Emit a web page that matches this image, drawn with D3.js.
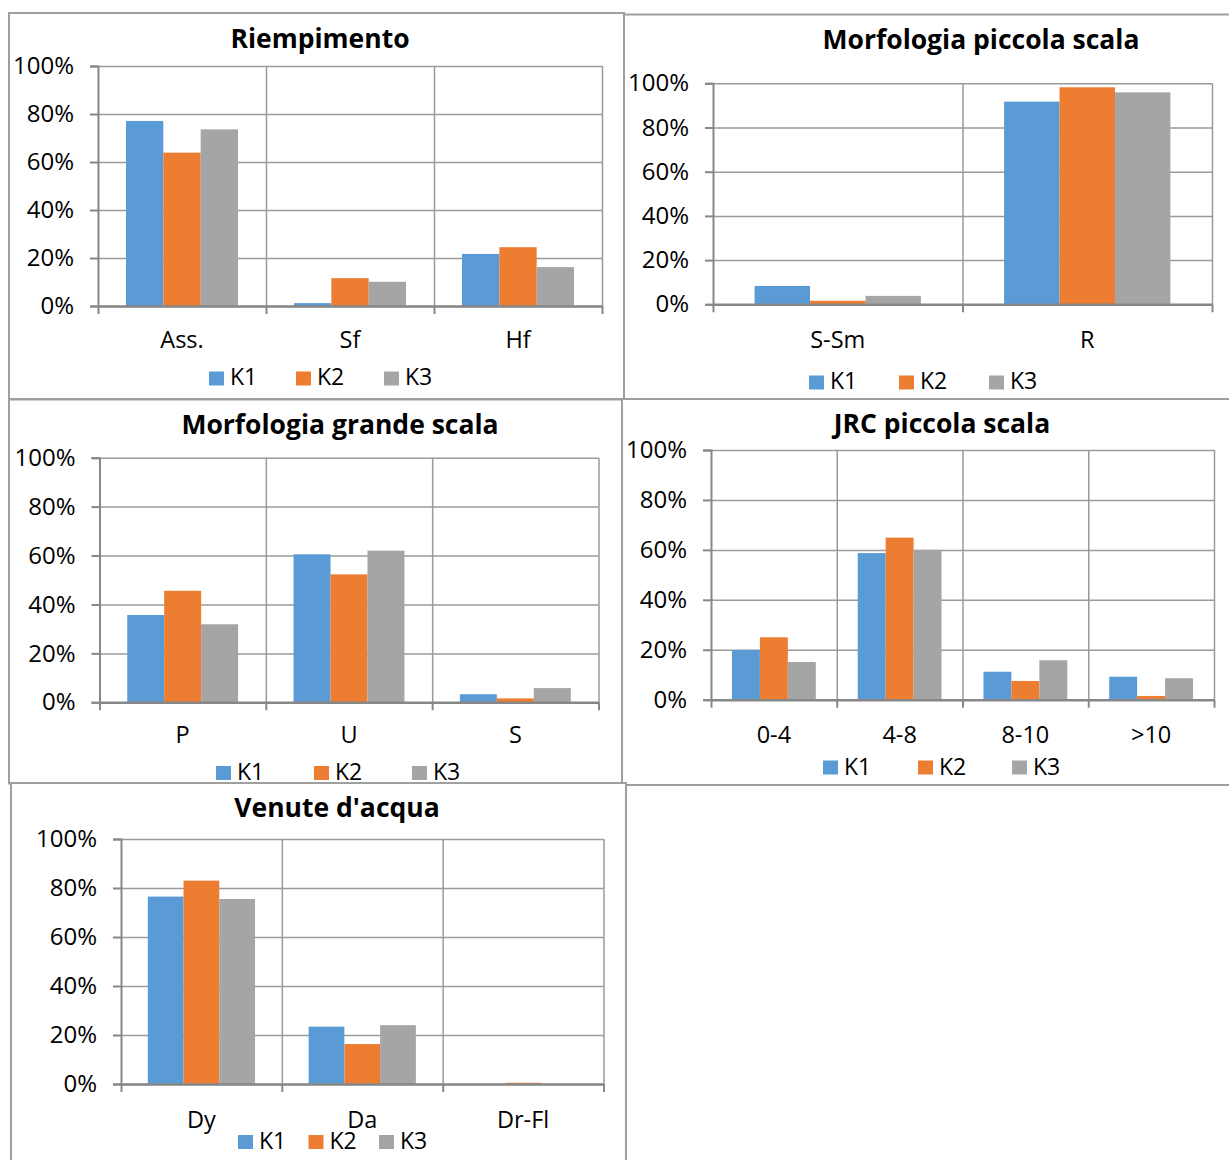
<!DOCTYPE html>
<html>
<head>
<meta charset="utf-8">
<script src="https://cdn.jsdelivr.net/npm/d3@7"></script>
<style>
  html, body { margin: 0; padding: 0; background: #fff; }
  svg { display: block; }
  text { font-family: "Open Sans", "Noto Sans", sans-serif; fill: #000; }
</style>
</head>
<body>
<svg id="chart" width="1229" height="1160"></svg>
<script>
// ---------------- DATA ----------------
const seriesNames = ["K1", "K2", "K3"];
const yTickValues = [0, 0.2, 0.4, 0.6, 0.8, 1.0];

const titles = ["Riempimento", "Morfologia piccola scala", "Morfologia grande scala", "JRC piccola scala", "Venute d'acqua"];

const riempimentoCategories = ["Ass.", "Sf", "Hf"];
const riempimentoK1 = [0.771, 0.012, 0.217];
const riempimentoK2 = [0.639, 0.116, 0.245];
const riempimentoK3 = [0.736, 0.101, 0.162];

const piccolaCategories = ["S-Sm", "R"];
const piccolaK1 = [0.083, 0.917];
const piccolaK2 = [0.016, 0.982];
const piccolaK3 = [0.038, 0.959];

const grandeCategories = ["P", "U", "S"];
const grandeK1 = [0.357, 0.605, 0.033];
const grandeK2 = [0.456, 0.523, 0.016];
const grandeK3 = [0.319, 0.620, 0.058];

const jrcCategories = ["0-4", "4-8", "8-10", ">10"];
const jrcK1 = [0.199, 0.587, 0.112, 0.092];
const jrcK2 = [0.250, 0.649, 0.075, 0.015];
const jrcK3 = [0.151, 0.600, 0.158, 0.086];

const venuteCategories = ["Dy", "Da", "Dr-Fl"];
const venuteK1 = [0.765, 0.234, 0.0];
const venuteK2 = [0.830, 0.163, 0.005];
const venuteK3 = [0.755, 0.240, 0.0];

// ---------------- STYLE / LAYOUT ----------------
const seriesColors = ["#5B9BD5", "#ED7D31", "#A5A5A5"];

const panelSpecs = [
  { title: titles[0], cats: riempimentoCategories, values: [riempimentoK1, riempimentoK2, riempimentoK3],
    frame: [9, 13, 615, 386], titleX: 320, titleY: 48,
    plot: { x0: 98, x1: 602, yTop: 66, yBot: 306 }, catY: 348,
    legend: { xs: [209, 296, 384], top: 371.5, base: 385 } },
  { title: titles[1], cats: piccolaCategories, values: [piccolaK1, piccolaK2, piccolaK3],
    frame: [624, 14.5, 620, 384.5], titleX: 981, titleY: 48.5,
    plot: { x0: 713, x1: 1212, yTop: 83.3, yBot: 304.3 }, catY: 348,
    legend: { xs: [809, 899, 989], top: 375.5, base: 389 } },
  { title: titles[2], cats: grandeCategories, values: [grandeK1, grandeK2, grandeK3],
    frame: [9, 399.5, 613, 384], titleX: 340, titleY: 434,
    plot: { x0: 99.5, x1: 598.5, yTop: 457.7, yBot: 702.3 }, catY: 743,
    legend: { xs: [216, 314, 412], top: 766, base: 780 } },
  { title: titles[3], cats: jrcCategories, values: [jrcK1, jrcK2, jrcK3],
    frame: [622, 399, 620, 386], titleX: 942, titleY: 433,
    plot: { x0: 711, x1: 1214, yTop: 450, yBot: 699.7 }, catY: 742.5,
    legend: { xs: [823, 918, 1012], top: 760.5, base: 775 } },
  { title: titles[4], cats: venuteCategories, values: [venuteK1, venuteK2, venuteK3],
    frame: [11, 783, 615, 400], titleX: 337, titleY: 816.5,
    plot: { x0: 121, x1: 603.5, yTop: 839, yBot: 1084 }, catY: 1127.5,
    legend: { xs: [238, 308.5, 379], top: 1135, base: 1149 } }
];

const svg = d3.select("#chart");
const gridColor = "#9a9a9a";
const axisColor = "#878787";
const frameColor = "#9f9f9f";

panelSpecs.forEach(spec => {
  const g = svg.append("g");
  const [fx, fy, fw, fh] = spec.frame;
  g.append("rect").attr("x", fx).attr("y", fy).attr("width", fw).attr("height", fh)
    .attr("fill", "#fff").attr("stroke", frameColor).attr("stroke-width", 2);

  const p = spec.plot;
  const y = d3.scaleLinear().domain([0, 1]).range([p.yBot, p.yTop]);
  const xCat = d3.scaleBand().domain(spec.cats).range([p.x0, p.x1]).padding(0);
  const xSer = d3.scaleBand().domain(seriesNames).range([0, xCat.bandwidth()])
    .paddingInner(0).paddingOuter(0.75);
  const xBound = d3.scaleLinear().domain([0, spec.cats.length]).range([p.x0, p.x1]);

  // horizontal gridlines
  g.append("g").attr("transform", `translate(${p.x0},0)`)
    .call(d3.axisLeft(y).tickValues(yTickValues).tickSize(-(p.x1 - p.x0)).tickFormat(""))
    .call(a => a.select(".domain").remove())
    .call(a => a.selectAll("line").attr("stroke", gridColor).attr("stroke-width", 1.5));

  // vertical gridlines at category boundaries
  g.append("g").attr("transform", `translate(0,${p.yTop})`)
    .call(d3.axisBottom(xBound).tickValues(d3.range(1, spec.cats.length + 1)).tickSize(p.yBot - p.yTop).tickFormat(""))
    .call(a => a.select(".domain").remove())
    .call(a => a.selectAll("line").attr("stroke", gridColor).attr("stroke-width", 1.5));

  // bars
  spec.cats.forEach((c, ci) => {
    seriesNames.forEach((s, si) => {
      const v = spec.values[si][ci];
      g.append("rect")
        .attr("x", xCat(c) + xSer(s))
        .attr("y", y(v))
        .attr("width", xSer.bandwidth())
        .attr("height", Math.max(0, y(0) - y(v)))
        .attr("fill", seriesColors[si]);
    });
  });

  // y axis with labels
  g.append("g").attr("transform", `translate(${p.x0},0)`)
    .call(d3.axisLeft(y).tickValues(yTickValues).tickSize(8).tickPadding(16).tickFormat(d3.format(".0%")))
    .call(a => a.select(".domain").attr("stroke", axisColor).attr("stroke-width", 2))
    .call(a => a.selectAll("line").attr("stroke", axisColor).attr("stroke-width", 2))
    .call(a => a.selectAll("text").attr("font-size", 24).attr("font-family", '"Open Sans", sans-serif').attr("fill", "#000"));

  // x axis: line + boundary ticks
  g.append("g").attr("transform", `translate(0,${p.yBot})`)
    .call(d3.axisBottom(xBound).tickValues(d3.range(0, spec.cats.length + 1)).tickSize(8).tickSizeOuter(0).tickFormat(""))
    .call(a => a.select(".domain").attr("stroke", axisColor).attr("stroke-width", 2.5))
    .call(a => a.selectAll("line").attr("stroke", axisColor).attr("stroke-width", 2));

  // category labels
  g.append("g").selectAll("text").data(spec.cats).join("text")
    .attr("x", d => xCat(d) + xCat.bandwidth() / 2)
    .attr("y", spec.catY)
    .attr("text-anchor", "middle")
    .attr("font-size", 23.5)
    .text(d => d);

  // title
  g.append("text").attr("x", spec.titleX).attr("y", spec.titleY)
    .attr("text-anchor", "middle").attr("font-size", 26.5).attr("font-weight", "bold")
    .text(spec.title);

  // legend
  seriesNames.forEach((s, si) => {
    const lx = spec.legend.xs[si];
    g.append("rect").attr("x", lx).attr("y", spec.legend.top).attr("width", 15).attr("height", 14)
      .attr("fill", seriesColors[si]);
    g.append("text").attr("x", lx + 21).attr("y", spec.legend.base)
      .attr("font-size", 23).text(s);
  });
});
</script>
</body>
</html>
